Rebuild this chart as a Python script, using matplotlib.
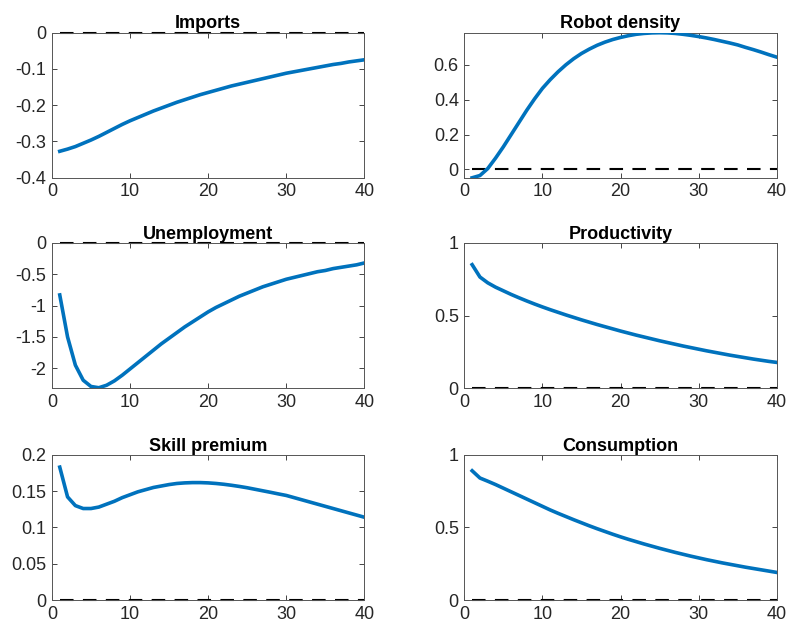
import numpy as np
import matplotlib
matplotlib.use('Agg')
import matplotlib.pyplot as plt
from matplotlib.ticker import FuncFormatter

plt.rcParams['font.family'] = ['Liberation Sans', 'DejaVu Sans']
plt.rcParams['axes.unicode_minus'] = False

# Horizon (quarters)
periods = list(range(1, 41))

# Impulse responses
imports = [-0.327, -0.321, -0.314, -0.305, -0.296, -0.286, -0.275, -0.264, -0.253, -0.243,
           -0.234, -0.225, -0.216, -0.208, -0.200, -0.192, -0.185, -0.178, -0.171, -0.165,
           -0.159, -0.153, -0.147, -0.142, -0.137, -0.132, -0.127, -0.122, -0.117, -0.112,
           -0.108, -0.104, -0.100, -0.096, -0.092, -0.088, -0.085, -0.081, -0.078, -0.075]

robot_density = [-0.048, -0.035, 0.005, 0.065, 0.130, 0.200, 0.270, 0.340, 0.405, 0.465,
                 0.515, 0.560, 0.600, 0.635, 0.665, 0.690, 0.712, 0.730, 0.745, 0.757,
                 0.767, 0.775, 0.780, 0.783, 0.784, 0.783, 0.780, 0.775, 0.769, 0.762,
                 0.754, 0.745, 0.735, 0.725, 0.714, 0.700, 0.687, 0.673, 0.658, 0.644]

unemployment = [-0.83, -1.50, -1.95, -2.19, -2.29, -2.31, -2.27, -2.20, -2.11, -2.01,
                -1.91, -1.81, -1.71, -1.61, -1.52, -1.43, -1.34, -1.26, -1.18, -1.10,
                -1.03, -0.97, -0.91, -0.85, -0.80, -0.75, -0.70, -0.66, -0.62, -0.58,
                -0.55, -0.52, -0.49, -0.46, -0.44, -0.41, -0.39, -0.37, -0.35, -0.32]

productivity = [0.850, 0.765, 0.725, 0.695, 0.670, 0.645, 0.622, 0.600, 0.579, 0.559,
                0.540, 0.522, 0.504, 0.487, 0.470, 0.454, 0.438, 0.423, 0.408, 0.393,
                0.379, 0.365, 0.352, 0.339, 0.326, 0.314, 0.302, 0.290, 0.279, 0.268,
                0.257, 0.247, 0.237, 0.227, 0.218, 0.209, 0.200, 0.192, 0.184, 0.177]

skill_premium = [0.183, 0.142, 0.130, 0.126, 0.126, 0.128, 0.132, 0.136, 0.141, 0.145,
                 0.149, 0.152, 0.155, 0.157, 0.159, 0.1605, 0.1613, 0.1617, 0.1617, 0.1613,
                 0.1605, 0.1594, 0.158, 0.1564, 0.1546, 0.1525, 0.1504, 0.1483, 0.1461, 0.144,
                 0.141, 0.138, 0.135, 0.132, 0.129, 0.126, 0.123, 0.120, 0.117, 0.114]

consumption = [0.890, 0.840, 0.818, 0.795, 0.770, 0.745, 0.720, 0.695, 0.670, 0.645,
               0.620, 0.597, 0.575, 0.553, 0.532, 0.511, 0.491, 0.472, 0.453, 0.435,
               0.418, 0.402, 0.386, 0.371, 0.356, 0.342, 0.328, 0.315, 0.302, 0.290,
               0.278, 0.267, 0.256, 0.246, 0.236, 0.226, 0.217, 0.208, 0.199, 0.190]

titles = ['Imports', 'Robot density', 'Unemployment', 'Productivity', 'Skill premium', 'Consumption']
series = [imports, robot_density, unemployment, productivity, skill_premium, consumption]
ylims = [(-0.4, 0), (-0.048, 0.785), (-2.316, 0), (0, 1), (0, 0.2), (0, 1)]
yticks = [[-0.4, -0.3, -0.2, -0.1, 0], [0, 0.2, 0.4, 0.6], [-2, -1.5, -1, -0.5, 0],
          [0, 0.5, 1], [0, 0.05, 0.1, 0.15, 0.2], [0, 0.5, 1]]

# Axes positions in figure fractions [left, bottom, width, height]
lefts = [0.066, 0.590]
bottoms = [0.716, 0.380, 0.0415]
w, h = 0.397, 0.232

fig = plt.figure(figsize=(7.87, 6.26), dpi=100)
blue = '#0072BD'
axcol = '#262626'

for i in range(6):
    r, c = divmod(i, 2)
    ax = fig.add_axes([lefts[c], bottoms[r], w, h])
    ax.plot(periods, [0] * len(periods), color='black', lw=1.5, dashes=(6.5, 4.5), clip_on=False, zorder=2)
    ax.plot(periods, series[i], color=blue, lw=2.6, zorder=3)
    ax.set_xlim(0, 40)
    ax.set_ylim(*ylims[i])
    ax.set_xticks([0, 10, 20, 30, 40])
    ax.set_yticks(yticks[i])
    ax.yaxis.set_major_formatter(FuncFormatter(lambda v, p: '%g' % v))
    ax.tick_params(direction='in', length=3.5, width=0.6, top=True, right=True,
                   labelsize=13, colors=axcol, labelcolor=axcol, pad=4)
    for s in ax.spines.values():
        s.set_color('#555555')
        s.set_linewidth(0.7)
    ax.set_title(titles[i], fontsize=13, fontweight='bold', pad=3)

fig.savefig('out.png', dpi=100)
